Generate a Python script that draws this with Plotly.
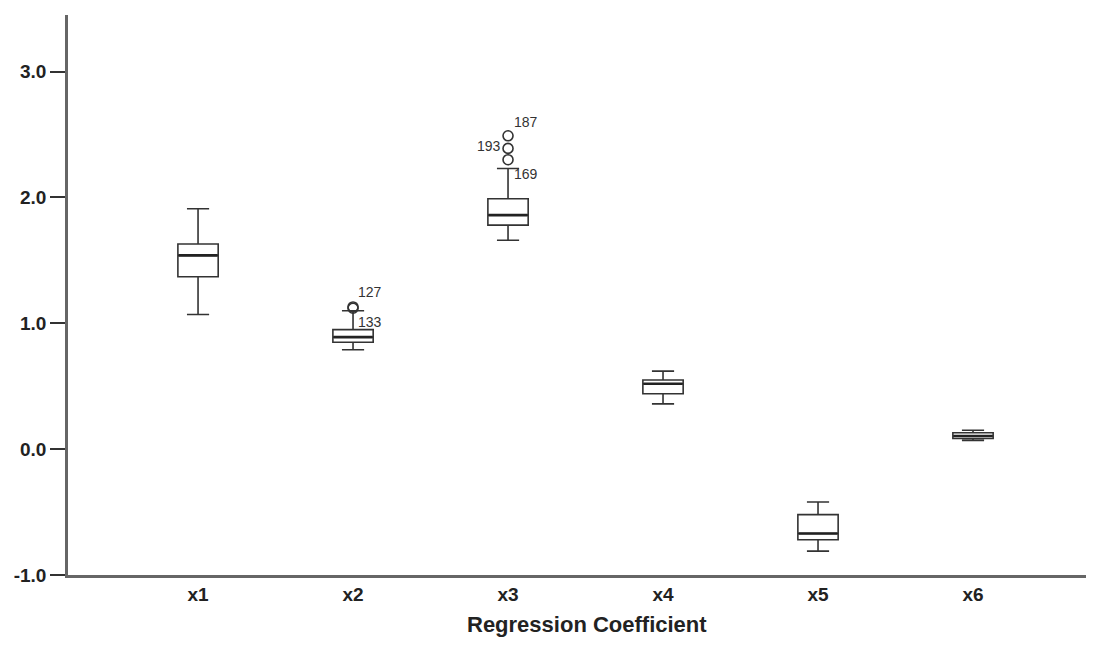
import plotly.graph_objects as go

categories = ["x1", "x2", "x3", "x4", "x5", "x6"]
lower_whisker = [1.07, 0.79, 1.66, 0.36, -0.81, 0.07]
q1 = [1.37, 0.85, 1.78, 0.44, -0.72, 0.085]
median = [1.54, 0.89, 1.86, 0.52, -0.67, 0.105]
q3 = [1.63, 0.95, 1.99, 0.55, -0.52, 0.13]
upper_whisker = [1.91, 1.10, 2.23, 0.62, -0.42, 0.15]

outlier_cat = ["x2", "x2", "x3", "x3", "x3"]
outlier_val = [1.13, 1.12, 2.49, 2.39, 2.30]
outlier_id = ["127", "133", "187", "193", "169"]
label_shift = [(17, 15), (17, -14), (18, 14), (-19, 2), (18, -14)]

fig = go.Figure()
fig.add_trace(go.Box(
    x=categories, q1=q1, median=median, q3=q3,
    lowerfence=lower_whisker, upperfence=upper_whisker,
    fillcolor="white", line=dict(color="#333333", width=1.6),
    width=0.26, whiskerwidth=0.55, boxpoints=False, showlegend=False,
    hoverinfo="skip",
))
# thicker median line, as in the original
fig.add_trace(go.Scatter(
    x=categories, y=median, mode="markers",
    marker=dict(symbol="line-ew-open", size=28, color="#222222",
                line=dict(width=2.6, color="#222222")),
    showlegend=False, hoverinfo="skip",
))
fig.add_trace(go.Scatter(
    x=outlier_cat, y=outlier_val, mode="markers",
    marker=dict(symbol="circle-open", size=10, color="#333333", line=dict(width=1.6)),
    showlegend=False,
))
for c, v, t, (dx, dy) in zip(outlier_cat, outlier_val, outlier_id, label_shift):
    fig.add_annotation(x=c, y=v, text=t, showarrow=False, xshift=dx, yshift=dy,
                       font=dict(family="Liberation Sans, Arial", size=14, color="#333333"))

fig.add_annotation(text="Regression Coefficient", xref="paper", yref="paper",
                   x=0.51, y=-0.114, xanchor="center", yanchor="bottom", showarrow=False,
                   font=dict(family="Liberation Sans, Arial", size=22, weight="bold", color="#222222"))

fig.update_layout(
    width=1078, height=632,
    margin=dict(l=60, r=0, t=7, b=65),
    paper_bgcolor="white", plot_bgcolor="white",
    font=dict(family="Liberation Sans, Arial", color="#222222"),
    xaxis=dict(
        type="category", range=[-0.839, 5.729], showgrid=False, zeroline=False,
        showline=True, linecolor="#666666", linewidth=2.5, ticks="",
        tickfont=dict(size=19, weight="bold"),
    ),
    yaxis=dict(
        range=[-1.0, 3.45], tickvals=[-1, 0, 1, 2, 3],
        ticktext=["-1.0", "0.0", "1.0", "2.0", "3.0"],
        showgrid=False, zeroline=False, showline=True, linecolor="#666666", linewidth=2.5,
        ticks="outside", ticklen=15, tickwidth=1.5, tickcolor="#333333",
        tickfont=dict(size=19, weight="bold"),
    ),
)
fig.write_html("out.html")
